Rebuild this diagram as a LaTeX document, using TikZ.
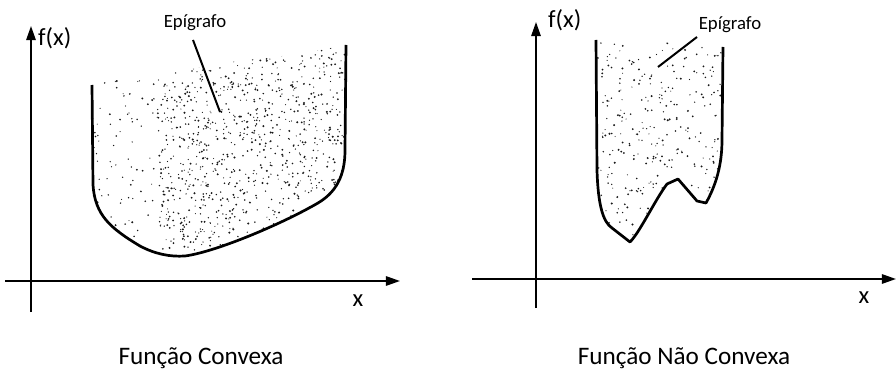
\documentclass[tikz,border=0pt]{standalone}
\usepackage{fontspec}
\setmainfont{Carlito}
\usetikzlibrary{arrows.meta}

\begin{document}
\begin{tikzpicture}[
    x=0.03cm, y=-0.03cm,
    axis/.style={-{Triangle[length=12pt, width=8pt]}, line width=1.5pt},
    curve/.style={line width=2.3pt, line join=round},
    lead/.style={line width=1.7pt},
    axlbl/.style={inner sep=0pt, font=\fontsize{21}{24}\selectfont},
    epi/.style={inner sep=0pt, font=\fontsize{16}{18}\selectfont},
    caption/.style={inner sep=0pt, font=\fontsize{21.5}{24}\selectfont},
    dot/.style={fill=black!90}
]
\useasboundingbox (0,0) rectangle (896,372);

% --- convex function (left) ---
\coordinate (lx0) at (5,281);
\coordinate (lx1) at (400,281);
\coordinate (ly0) at (31,312);
\coordinate (ly1) at (31,26);
\draw[axis] (lx0) -- (lx1);
\draw[axis] (ly0) -- (ly1);
\node[axlbl, anchor=west] (fxL) at (38,38) {f(x)};
\node[axlbl] (xL) at (358,301) {x};

\pgfmathsetseed{11}
\begin{scope}
  \clip (92,85) -- (93,185) .. controls (95,215) and (110,228) .. (140,246)
        .. controls (155,254) and (170,257) .. (185,256)
        .. controls (215,252) and (280,225) .. (318,203)
        .. controls (340,190) and (345,170) .. (345,150) -- (346,45)
        -- (300,54) -- (230,62) -- (160,75) -- (92,83) -- cycle;
  % sparse part
  \foreach \i in {1,...,160}{
    \pgfmathsetmacro{\px}{92+120*rnd}
    \pgfmathsetmacro{\py}{80+170*rnd}
    \fill[dot] (\px,\py) circle[radius=0.45pt+0.45pt*rnd];
  }
  % dense part
  \foreach \i in {1,...,950}{
    \pgfmathsetmacro{\px}{160+186*rnd}
    \pgfmathsetmacro{\py}{45+205*rnd}
    \fill[dot] (\px,\py) circle[radius=0.45pt+0.5pt*rnd];
  }
\end{scope}
\draw[curve] (92,85) -- (93,185) .. controls (95,215) and (110,228) .. (140,246)
      .. controls (155,254) and (170,257) .. (185,256)
      .. controls (215,252) and (280,225) .. (318,203)
      .. controls (340,190) and (345,170) .. (345,150) -- (346,45);

\node[epi] (epiL) at (195,23) {Epígrafo};
\coordinate (epiLa) at (193,40);
\coordinate (epiLb) at (220,112);
\draw[lead] (epiLa) -- (epiLb);

\node[caption] (capL) at (201,358) {Função Convexa};

% --- non-convex function (right) ---
\coordinate (rx0) at (472,279);
\coordinate (rx1) at (896,279);
\coordinate (ry0) at (536,308);
\coordinate (ry1) at (536,22);
\draw[axis] (rx0) -- (rx1);
\draw[axis] (ry0) -- (ry1);
\node[axlbl, anchor=west] (fxR) at (548,20) {f(x)};
\node[axlbl] (xR) at (864,298) {x};

\begin{scope}
  \clip (596,40) -- (597,170) .. controls (598,205) and (603,222) .. (612,228)
        -- (630,242) .. controls (640,232) and (655,200) .. (667,184)
        -- (678,179) -- (697,201) -- (706,203)
        .. controls (716,185) and (722,165) .. (722,140) -- (723,47)
        -- (660,42) -- cycle;
  \foreach \i in {1,...,330}{
    \pgfmathsetmacro{\px}{596+127*rnd}
    \pgfmathsetmacro{\py}{40+200*rnd}
    \fill[dot] (\px,\py) circle[radius=0.45pt+0.5pt*rnd];
  }
\end{scope}
\draw[curve] (596,40) -- (597,170) .. controls (598,205) and (603,222) .. (612,228)
      -- (630,242) .. controls (640,232) and (655,200) .. (667,184)
      -- (678,179) -- (697,201) -- (706,203)
      .. controls (716,185) and (722,165) .. (722,140) -- (723,47);

\node[epi] (epiR) at (730,25) {Epígrafo};
\coordinate (epiRa) at (697,37);
\coordinate (epiRb) at (658,67);
\draw[lead] (epiRa) -- (epiRb);

\node[caption] (capR) at (684,358) {Função Não Convexa};
\end{tikzpicture}
\end{document}
